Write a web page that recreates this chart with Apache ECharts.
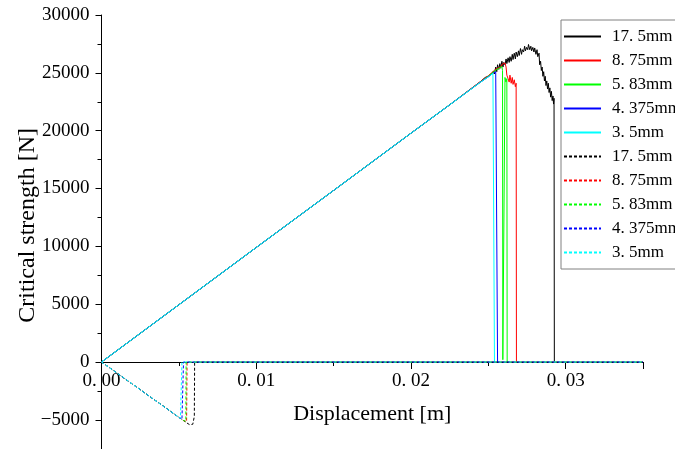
<!DOCTYPE html>
<html>
<head>
<meta charset="utf-8">
<script src="https://cdn.jsdelivr.net/npm/echarts@6/dist/echarts.min.js"></script>
<style>html,body{margin:0;padding:0;background:#fff;}#c{width:675px;height:449px;}</style>
</head>
<body>
<div id="c"></div>
<script>
// ---- data ----
var seriesNames = ["17. 5mm", "8. 75mm", "5. 83mm", "4. 375mm", "3. 5mm"];
var seriesColors = ["#000000", "#ff0000", "#00ff00", "#0000ff", "#00ffff"];
var xTickLabels = ["0. 00", "0. 01", "0. 02", "0. 03"];

// shared linear loading ramp (solid curves)
var ramp = [[0, 0], [0.005, 4950], [0.01, 9900], [0.015, 14830], [0.02, 19780], [0.0225, 22230]];

var solid175 = [[0.0245, 24250], [0.0248, 24600], [0.025, 24700], [0.0252, 24900], [0.02535, 25150], [0.0254, 24900],
  [0.02548, 25500], [0.02555, 25100], [0.0256, 25700], [0.02568, 25300], [0.02575, 25800], [0.0258, 25400],
  [0.02588, 26000], [0.02595, 25500], [0.026, 25900], [0.02608, 25700], [0.02615, 26200], [0.0262, 25800],
  [0.02628, 26300], [0.02635, 25900], [0.0264, 26400], [0.02648, 26000], [0.02655, 26600], [0.0266, 26150],
  [0.02668, 26700], [0.02675, 26200], [0.0268, 26800], [0.02688, 26400], [0.02695, 26900], [0.027, 26500],
  [0.02708, 27100], [0.02715, 26600], [0.0272, 27000], [0.02728, 26800], [0.02735, 27300], [0.0274, 26900],
  [0.02748, 27200], [0.02755, 27000], [0.0276, 27450], [0.02768, 27000], [0.02775, 27300], [0.0278, 26900],
  [0.02788, 27200], [0.02795, 26800], [0.028, 27150], [0.02808, 26600], [0.02815, 27000], [0.0282, 26400],
  [0.02828, 26700], [0.02832, 25700], [0.02838, 26000], [0.02843, 25200], [0.02848, 25500], [0.02853, 24700],
  [0.02858, 25100], [0.02863, 24300], [0.02868, 24700], [0.02873, 23900], [0.02878, 24300], [0.02883, 23600],
  [0.02888, 24100], [0.02893, 23300], [0.02898, 23700], [0.02903, 22900], [0.02908, 23400], [0.02913, 22600],
  [0.02918, 23000], [0.02922, 22300], [0.02925, 22800], [0.02927, 0]];
var solid875 = [[0.0245, 24250], [0.025, 24750], [0.0253, 25100], [0.02545, 25300], [0.0256, 25400], [0.0257, 25550],
  [0.0258, 25500], [0.0259, 25750], [0.026, 25600], [0.02608, 25850], [0.02615, 25500], [0.0262, 24800],
  [0.02628, 24500], [0.02635, 24200], [0.0264, 24800], [0.02648, 24100], [0.02655, 24600], [0.0266, 24000],
  [0.02668, 24400], [0.02675, 23800], [0.0268, 24100], [0.02682, 0]];
var solid583 = [[0.0245, 24200], [0.025, 24700], [0.0253, 25050], [0.0255, 25250], [0.0257, 25400], [0.0258, 25350],
  [0.02588, 25550], [0.02592, 25200], [0.02594, 200], [0.02608, 24600], [0.02614, 24200], [0.0262, 24500], [0.02622, 0]];
var solid4375 = [[0.0245, 24200], [0.025, 24650], [0.0253, 24950], [0.02548, 25100], [0.02556, 24950], [0.0256, 0]];
var solid35 = [[0.0245, 24200], [0.025, 24650], [0.0253, 24950], [0.02538, 24850], [0.0254, 0]];

var dash175 = [[0, 0], [0.0055, -5250], [0.0057, -5420], [0.0059, -5380], [0.006, -4700], [0.00602, 0], [0.035, 0]];
var dash875 = [[0, 0], [0.0053, -5060], [0.0055, -5150], [0.00553, 0], [0.035, 0]];
var dash583 = [[0, 0], [0.0053, -5060], [0.00545, -5120], [0.00547, 0], [0.035, 0]];
var dash4375 = [[0, 0], [0.0052, -4970], [0.00529, -5000], [0.0053, 0], [0.035, 0]];
var dash35 = [[0, 0], [0.0051, -4870], [0.0052, -4950], [0.0052, 0], [0.035, 0]];

var solidData = [solid175, solid875, solid583, solid4375, solid35].map(function (d) { return ramp.concat(d); });
var dashData = [dash175, dash875, dash583, dash4375, dash35];

var SERIF = '"Liberation Serif","DejaVu Serif",serif';

var series = [];
solidData.forEach(function (d, i) {
  series.push({
    name: seriesNames[i], type: 'line', data: d, showSymbol: false, symbol: 'none',
    lineStyle: { color: seriesColors[i], width: 1 }, itemStyle: { color: seriesColors[i] },
    animation: false
  });
});
dashData.forEach(function (d, i) {
  series.push({
    name: seriesNames[i] + ' ', type: 'line', data: d, showSymbol: false, symbol: 'none',
    lineStyle: { color: seriesColors[i], width: 1, type: [3, 2] }, itemStyle: { color: seriesColors[i] },
    animation: false
  });
});

var GRID_TOP = 15, GRID_H = 462.7;
var zeroOffset = GRID_H * 10000 / 40000; // distance from grid bottom (-10000) up to y = 0

var chart = echarts.init(document.getElementById('c'), null, { renderer: 'canvas' });
chart.setOption({
  backgroundColor: '#ffffff',
  animation: false,
  grid: { left: 101.5, width: 541.5, top: GRID_TOP, height: GRID_H, containLabel: false, outerBoundsMode: 'none' },
  legend: {
    orient: 'vertical', left: 561, top: 20,
    data: series.map(function (s) { return s.name; }),
    itemWidth: 37, itemHeight: 14, itemGap: 7,
    padding: [8, 40, 8, 2],
    backgroundColor: '#ffffff', borderColor: '#808080', borderWidth: 1,
    itemStyle: { opacity: 0, borderWidth: 0 },
    textStyle: { fontFamily: SERIF, fontSize: 17, color: '#000', padding: [0, 0, 0, 6] }
  },
  xAxis: {
    type: 'value', min: 0, max: 0.035, interval: 0.01, position: 'bottom', offset: -zeroOffset,
    name: 'Displacement [m]', nameLocation: 'middle', nameGap: 41, nameMoveOverlap: false,
    nameTextStyle: { fontFamily: SERIF, fontSize: 22, color: '#000' },
    axisLine: { onZero: false, lineStyle: { color: '#000', width: 1 } },
    axisTick: { show: true, inside: false, length: 7, lineStyle: { color: '#000' } },
    minorTick: { show: true, splitNumber: 2, length: 4, lineStyle: { color: '#000' } },
    splitLine: { show: false },
    axisLabel: {
      fontFamily: SERIF, fontSize: 19, color: '#000', margin: 9,
      formatter: function (v) {
        var k = Math.round(v / 0.01);
        if (Math.abs(v - k * 0.01) > 1e-9) return '';
        return xTickLabels[k] || '';
      }
    }
  },
  yAxis: {
    type: 'value', min: -10000, max: 30000, interval: 5000,
    name: 'Critical strength [N]', nameLocation: 'middle', nameGap: 62, nameRotate: 90, nameMoveOverlap: false,
    nameTextStyle: { fontFamily: SERIF, fontSize: 24, color: '#000', padding: [0, 0, 0, 42] },
    axisLine: { show: true, lineStyle: { color: '#000', width: 1 } },
    axisTick: { show: true, inside: false, length: 6, lineStyle: { color: '#000' } },
    minorTick: { show: true, splitNumber: 2, length: 4, lineStyle: { color: '#000' } },
    splitLine: { show: false },
    axisLabel: {
      fontFamily: SERIF, fontSize: 19, color: '#000', margin: 12,
      formatter: function (v) { return v < 0 ? '\u2212' + Math.abs(v) : String(v); }
    }
  },
  series: series
});
</script>
</body>
</html>
